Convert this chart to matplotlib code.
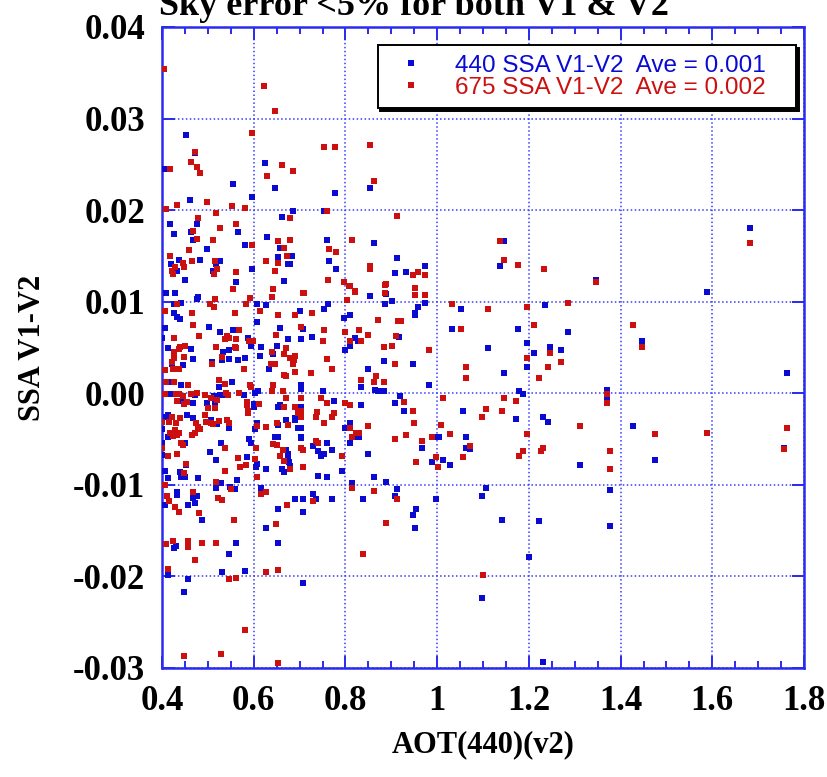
import numpy as np
import matplotlib
matplotlib.use('Agg')
import matplotlib.pyplot as plt
from matplotlib.lines import Line2D
from matplotlib.ticker import MultipleLocator

# (AOT(440) v2, SSA V1-V2)
ssa440 = [
    (.452, .0282), (.472, .0262), (.407, .0245), (.624, .0251), (.554, .0228), (.646, .0224), (.854, .0224), (.778, .0219), (.596, .0214), (.461, .0211),
    (.685, .0199), (.754, .0199), (.661, .0193), (.476, .0185), (.417, .0185), (.463, .0176), (.565, .0176), (.426, .0174), (.630, .0171), (.467, .0167),
    (.759, .0167), (.863, .0164), (.580, .0162), (.657, .0159), (.498, .0158), (.437, .0146), (.483, .0146), (.526, .0144), (.765, .0144), (.913, .0148),
    (.654, .0149), (.683, .0150), (.420, .0141), (.517, .0141), (.674, .0141), (.680, .0141), (.511, .0134), (.433, .0134), (.596, .0136), (.780, .0136),
    (.974, .0139), (.909, .0131), (.933, .0132), (.450, .0124), (.665, .0123), (.561, .0122),
    (.409, .0109), (.428, .0109), (.478, .0105), (.476, .0103), (.513, .0094), (.426, .0098), (.441, .0099), (.607, .0097), (.626, .0096), (.426, .0088),
    (.433, .0083), (.439, .0081), (.607, .0078), (.702, .0090), (.502, .0072), (.407, .0071), (.400, .0060), (.657, .0071), (.554, .0069), (.526, .0067),
    (.587, .0060), (.674, .0059), (.704, .0059), (.593, .0052), (.650, .0052), (.615, .0051), (.463, .0048), (.413, .0049), (.546, .0047), (.533, .0045),
    (.613, .0041), (.467, .0037), (.530, .0036), (.546, .0037), (.565, .0036), (.580, .0039), (.422, .0032), (.509, .0034), (.641, .0043), (.633, .0027),
    (.446, .0031), (.552, .0012), (.420, .0012), (.441, .0009), (.524, .0007), (.602, .0000), (.609, .0002), (.420, -.0001), (.472, -.0002), (.513, -.0003),
    (.526, -.0002), (.537, -.0002), (.578, -.0002), (.441, -.0008), (.467, -.0011), (.498, -.0011), (.515, -.0012), (.600, -.0012), (.600, -.0015), (.652, -.0015),
    (.657, -.0013),
    (.400, -.0039), (.413, -.0024), (.409, -.0026), (.413, -.0048), (.400, -.0054), (.400, -.0067), (.450, -.0054), (.454, -.0024), (.467, -.0027), (.507, -.0029),
    (.520, -.0034), (.504, -.0064), (.517, -.0073), (.528, -.0054), (.546, -.0038), (.585, -.0070), (.589, -.0050), (.593, -.0054), (.602, -.0039), (.607, -.0032),
    (.646, -.0048), (.654, -.0048), (.670, -.0062), (.674, -.0066), (.674, -.0073), (.678, -.0075), (.691, -.0027), (.696, -.0038), (.704, -.0049), (.652, -.0035),
    (.670, -.0029), (.691, -.0029),
    (.854, .0106), (.889, .0108), (.902, .0101), (.887, .0097), (.974, .0099), (.959, .0094), (.952, .0088), (.952, .0085), (.763, .0097), (.754, .0092),
    (.809, .0086), (.796, .0082), (.707, .0070), (1.033, .0070), (.917, .0061), (.728, .0061), (.820, .0060), (.828, .0057), (.809, .0052), (.800, .0047),
    (.885, .0035), (.948, .0032), (.850, .0026), (.835, .0007), (.983, .0009), (.704, .0009), (.704, .0005), (.750, .0002), (.865, .0004), (.870, .0002),
    (.885, .0002), (.920, -.0003), (.774, -.0008), (.835, -.0013), (.909, -.0011), (.928, -.0019), (.704, -.0015), (.809, -.0033), (.800, -.0038), (.830, -.0048),
    (.824, -.0048), (.811, -.0054), (1.002, -.0048), (.967, -.0060), (.704, -.0038), (.704, -.0048), (.759, -.0054), (.730, -.0058), (.741, -.0063), (.746, -.0068),
    (.754, -.0066), (.770, -.0062), (.850, -.0066), (.989, -.0075), (1.013, -.0073), (1.028, -.0078),
    (.741, -.0090), (.759, -.0091), (.793, -.0085), (.863, -.0091), (.815, -.0098), (.889, -.0097), (.913, -.0105), (.707, -.0115), (.730, -.0110), (.735, -.0115),
    (.770, -.0116), (.839, -.0115), (.909, -.0112), (.998, -.0116), (.954, -.0126), (.948, -.0133), (.952, -.0147), (.707, -.0130), (.707, -.0207),
    (.452, -.0078), (.604, -.0081), (.607, -.0077), (.626, -.0083), (.661, -.0083), (.667, -.0086), (.680, -.0079), (.407, -.0085), (.413, -.0093), (.439, -.0086),
    (.441, -.0091), (.450, -.0091), (.478, -.0093), (.563, -.0095), (.517, -.0103), (.528, -.0098), (.548, -.0102), (.559, -.0105), (.615, -.0103), (.407, -.0122),
    (.433, -.0108), (.433, -.0111), (.467, -.0114), (.476, -.0112), (.457, -.0122), (.472, -.0120), (.487, -.0138), (.691, -.0116), (.654, -.0126),
    (.626, -.0147), (.426, -.0169), (.430, -.0167), (.561, -.0163), (.546, -.0175), (.654, -.0163), (.413, -.0198), (.530, -.0195), (.580, -.0194), (.457, -.0203),
    (.448, -.0217),
    (1.146, .0166), (1.137, .0139), (1.346, .0124), (1.683, .0181), (1.589, .0111), (1.052, .0092), (1.235, .0096), (1.176, .0070), (1.285, .0067), (1.446, .0057),
    (1.196, .0055), (1.111, .0049), (1.246, .0051), (1.211, .0044), (1.270, .0047), (1.196, .0029), (1.146, .0022), (1.763, .0022), (1.178, .0002), (1.187, -.0001),
    (1.370, .0004), (1.370, -.0005), (1.057, -.0019), (1.172, -.0028), (1.230, -.0026), (1.241, -.0031), (1.428, -.0036), (1.757, -.0060), (1.004, -.0048), (1.063, -.0048),
    (1.063, -.0060), (1.072, -.0061), (1.311, -.0078), (1.474, -.0073), (1.107, -.0103), (1.098, -.0112), (1.376, -.0106), (1.141, -.0138), (1.222, -.0140), (1.376, -.0145),
    (1.200, -.0179), (1.098, -.0224), (1.230, -.0294),
]

ssa675 = [
    (.404, .0354), (.622, .0336), (.646, .0308), (.596, .0284), (.472, .0264), (.463, .0253), (.476, .0247), (.483, .0241), (.417, .0245), (.754, .0269),
    (.778, .0269), (.854, .0271), (.661, .0249), (.685, .0243), (.630, .0237), (.863, .0232), (.498, .0209), (.433, .0206), (.552, .0204), (.580, .0202),
    (.409, .0201), (.517, .0197), (.759, .0199), (.913, .0194), (.680, .0191), (.478, .0191), (.561, .0185), (.526, .0181), (.467, .0177), (.476, .0169),
    (.511, .0167), (.652, .0166), (.680, .0167), (.815, .0167), (.665, .0159), (.596, .0162), (.765, .0158), (.780, .0154), (.459, .0156), (.417, .0150),
    (.672, .0150), (.465, .0144), (.515, .0144), (.626, .0144), (.446, .0142), (.854, .0139), (.854, .0136), (.652, .0142), (.520, .0136), (.428, .0138),
    (.448, .0138), (.422, .0134), (.646, .0134), (.424, .0130), (.513, .0130), (.561, .0132), (.948, .0129), (.959, .0132), (.974, .0129), (.761, .0124),
    (.796, .0121), (.809, .0117), (.820, .0112), (.889, .0119), (.952, .0115), (.554, .0114), (.641, .0114),
    (.639, .0105), (.709, .0109), (.515, .0103), (.513, .0094), (.504, .0097), (.433, .0098), (.591, .0104), (.583, .0097), (.407, .0090), (.465, .0088),
    (.559, .0088), (.613, .0090), (.689, .0086), (.652, .0085), (.467, .0074), (.704, .0072), (.567, .0069), (.480, .0062), (.426, .0060), (.648, .0064),
    (.541, .0062), (.537, .0059), (.546, .0060), (.561, .0059), (.589, .0057), (.598, .0057), (.517, .0050), (.561, .0049), (.670, .0049), (.450, .0052),
    (.439, .0050), (.437, .0048), (.426, .0045), (.559, .0050), (.639, .0045), (.530, .0040), (.448, .0040), (.426, .0038), (.422, .0034), (.689, .0041),
    (.687, .0036), (.667, .0043), (.680, .0038), (.509, .0032), (.637, .0032), (.646, .0032), (.670, .0019), (.667, .0020), (.685, .0032), (.685, .0034),
    (.437, .0027), (.424, .0026), (.578, .0026), (.407, .0025), (.689, .0023), (.524, .0014), (.537, .0010), (.409, .0012), (.426, .0012), (.457, .0009),
    (.641, .0009), (.663, .0003), (.591, .0009), (.593, .0007), (.407, -.0001), (.430, -.0001), (.437, -.0001), (.446, -.0003), (.463, -.0001), (.476, .0000),
    (.493, -.0002), (.507, -.0005), (.539, .0000), (.543, -.0002), (.567, .0000), (.639, .0002), (.670, -.0005), (.433, -.0008), (.448, -.0012), (.454, -.0009),
    (.585, -.0010), (.585, -.0013), (.587, -.0019), (.587, -.0022), (.611, -.0012), (.667, -.0015), (.704, -.0005), (.500, -.0016), (.515, -.0016), (.520, -.0007),
    (.689, -.0015), (.696, -.0022),
    (.400, -.0031), (.415, -.0031), (.422, -.0026), (.430, -.0032), (.439, -.0027), (.417, -.0043), (.428, -.0040), (.437, -.0043), (.433, -.0046), (.424, -.0047),
    (.441, -.0054), (.400, -.0060), (.413, -.0069), (.433, -.0066), (.446, -.0057), (.465, -.0046), (.472, -.0043), (.474, -.0032), (.478, -.0037), (.483, -.0039),
    (.493, -.0024), (.496, -.0031), (.507, -.0032), (.511, -.0034), (.524, -.0030), (.537, -.0060), (.541, -.0029), (.546, -.0033), (.565, -.0071), (.602, -.0072),
    (.607, -.0036), (.604, -.0060), (.641, -.0055), (.650, -.0057), (.657, -.0069), (.663, -.0062), (.704, -.0060), (.650, -.0033), (.674, -.0035),
    (.704, -.0026), (.626, -.0037),
    (.707, .0110), (.807, .0117), (.820, .0111), (.887, .0118), (.887, .0110), (.952, .0107), (.974, .0107), (1.033, .0097), (.804, .0102), (.726, .0088),
    (.870, .0080), (.915, .0079), (.922, .0079), (.754, .0069), (.800, .0067), (.830, .0069), (.850, .0064), (.911, .0062), (.750, .0057), (.809, .0057),
    (.835, .0057), (.902, .0052), (.885, .0051), (.983, .0047), (.759, .0037), (.770, .0026), (.724, .0022), (.909, .0032), (.867, .0019), (.863, .0012),
    (.835, .0014), (.885, .0012), (1.013, -.0005), (.746, -.0005), (.759, -.0011), (.800, -.0011), (.809, -.0013), (.928, -.0010), (.948, -.0019), (.704, -.0019),
    (.737, -.0021), (.735, -.0026), (.774, -.0022), (.770, -.0026), (.754, -.0033), (.809, -.0038), (.824, -.0043), (.830, -.0043), (.815, -.0048), (.850, -.0036),
    (.950, -.0033), (1.009, -.0035), (1.028, -.0044), (.989, -.0048), (.909, -.0050), (.933, -.0046), (.967, -.0052), (.735, -.0052), (.741, -.0054), (.707, -.0062),
    (.793, -.0068), (.954, -.0075), (.998, -.0070),
    (.707, -.0081), (1.002, -.0080), (.815, -.0103), (.863, -.0107), (.730, -.0118), (.913, -.0116), (.889, -.0142), (.839, -.0175),
    (.452, -.0077), (.537, -.0085), (.570, -.0081), (.583, -.0078), (.607, -.0091), (.667, -.0074), (.680, -.0083), (.448, -.0087), (.517, -.0097), (.550, -.0105),
    (.407, -.0100), (.615, -.0110), (.626, -.0108), (.411, -.0112), (.415, -.0118), (.467, -.0108), (.522, -.0114), (.530, -.0117), (.428, -.0124), (.437, -.0130),
    (.480, -.0131), (.557, -.0138), (.672, -.0122), (.648, -.0143), (.409, -.0165), (.424, -.0161), (.457, -.0161), (.457, -.0168), (.487, -.0163), (.517, -.0163),
    (.472, -.0182), (.413, -.0192), (.626, -.0195), (.652, -.0193), (.546, -.0203), (.561, -.0202), (.580, -.0258), (.448, -.0287), (.528, -.0285), (.654, -.0295),
    (1.137, .0166), (1.146, .0146), (1.176, .0140), (1.233, .0136), (1.346, .0122), (1.683, .0164), (1.111, .0092), (1.196, .0094), (1.285, .0099), (1.052, .0070),
    (1.211, .0074), (1.428, .0074), (1.446, .0051), (1.246, .0044), (1.270, .0034), (1.196, .0039), (1.241, .0029), (1.063, .0029), (1.063, .0017), (1.222, .0017),
    (1.370, -.0001), (1.370, -.0011), (1.146, -.0005), (1.172, -.0008), (1.107, -.0017), (1.141, -.0019), (1.098, -.0026), (1.311, -.0036), (1.474, -.0045), (1.589, -.0043),
    (1.763, -.0038), (1.757, -.0061), (1.072, -.0058), (1.057, -.0070), (1.196, -.0045), (1.178, -.0068), (1.187, -.0063), (1.226, -.0063), (1.230, -.0060), (1.376, -.0063),
    (1.376, -.0083), (1.100, -.0198),
]

labels = ['440 SSA V1-V2  Ave = 0.001', '675 SSA V1-V2  Ave = 0.002']
x_ticks = [0.4, 0.6, 0.8, 1.0, 1.2, 1.4, 1.6, 1.8]
x_ticklabels = ['0.4', '0.6', '0.8', '1', '1.2', '1.4', '1.6', '1.8']
y_ticks = [-0.03, -0.02, -0.01, 0.0, 0.01, 0.02, 0.03, 0.04]
y_ticklabels = ['-0.03', '-0.02', '-0.01', '0.00', '0.01', '0.02', '0.03', '0.04']

BLUE = '#0a0ad2'
RED = '#cc1010'
FRAME = '#2a2af0'
serif = {'family': 'Liberation Serif', 'weight': 'bold'}

a440 = np.array(ssa440)
a675 = np.array(ssa675)

fig = plt.figure(figsize=(8.27, 7.77), dpi=100)
ax = fig.add_axes([0.1959, 0.1403, 0.7763, 0.8250])

ax.plot(a440[:, 0], a440[:, 1], 's', color=BLUE, ms=4.0, mew=0, zorder=3)
ax.plot(a675[:, 0], a675[:, 1], 's', color=RED, ms=4.0, mew=0, zorder=3)

ax.set_xlim(0.4, 1.8)
ax.set_ylim(-0.03, 0.04)
ax.set_xticks(x_ticks)
ax.set_xticklabels(x_ticklabels, fontdict=serif, fontsize=25)
ax.set_yticks(y_ticks)
ax.set_yticklabels(y_ticklabels, fontdict=serif, fontsize=25)
ax.xaxis.set_minor_locator(MultipleLocator(0.05))

ax.tick_params(which='both', direction='in', top=True, right=True, color=FRAME, width=1.4)
ax.tick_params(which='major', length=9)
ax.tick_params(which='minor', length=5)
ax.tick_params(axis='x', pad=12)
ax.tick_params(axis='y', pad=12)
for s in ax.spines.values():
    s.set_color(FRAME)
    s.set_linewidth(1.8)
ax.grid(True, which='major', color='#3a3aff', linestyle=(0, (1, 1.6)), linewidth=1.1)
ax.set_axisbelow(True)

ax.set_xlabel('AOT(440)(v2)', fontdict=serif, fontsize=22, labelpad=9)
ax.set_ylabel('SSA V1-V2', fontdict=serif, fontsize=22, labelpad=19)

# title sits partly above the top edge, as in the source image
fig.text(0.50, 0.981, 'Sky error <5% for both V1 & V2', fontdict=serif, fontsize=26,
         ha='center', va='baseline')

handles = [Line2D([], [], marker='s', ls='none', color=BLUE, ms=4.0, mew=0),
           Line2D([], [], marker='s', ls='none', color=RED, ms=4.0, mew=0)]
leg = ax.legend(handles, labels, loc='upper left', bbox_to_anchor=(0.336, 0.972, 0.652, 0.0),
                mode='expand', borderaxespad=0,
                prop={'family': 'Liberation Sans', 'size': 17.5},
                handlelength=1.9, handletextpad=0.9, borderpad=0.4, labelspacing=0.0,
                fancybox=False, edgecolor='black', framealpha=1,
                shadow={'color': 'black', 'alpha': 1})
leg.get_frame().set_linewidth(1.4)
for txt, c in zip(leg.get_texts(), [BLUE, RED]):
    txt.set_color(c)

fig.savefig('out.png', dpi=100)
